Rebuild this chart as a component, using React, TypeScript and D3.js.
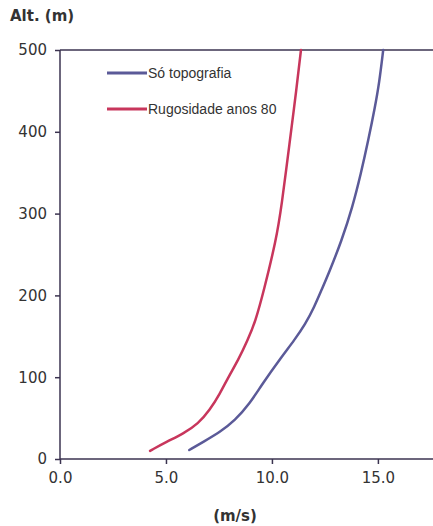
import * as d3 from "d3";
import React, { useEffect, useRef } from "react";

// wind speed (m/s) vs altitude (m)
const topoSpeed = [6.1, 6.76, 7.55, 8.25, 8.96, 9.55, 10.46, 11.05, 11.58, 12.0, 12.33, 12.68, 13.29, 13.8, 14.2, 14.55, 14.86, 15.06, 15.25];
const topoAlt = [11, 21, 33, 47, 68, 92, 125, 145, 165, 186, 206, 227, 267, 308, 349, 390, 430, 459, 500];

const roughSpeed = [4.25, 5.03, 5.82, 6.52, 7.07, 7.55, 7.94, 8.41, 8.85, 9.22, 9.62, 10.2, 10.45, 10.85, 11.1, 11.37];
const roughAlt = [10, 21, 31, 43, 60, 80, 100, 121, 145, 168, 206, 268, 308, 390, 440, 500];

const seriesNames = ["Só topografia", "Rugosidade anos 80"];
const seriesColors = ["#5b5a98", "#c8365c"];
const xTicks = [0, 5, 10, 15];
const yTicks = [0, 100, 200, 300, 400, 500];

const App: React.FC = () => {
  const svgRef = useRef<SVGSVGElement | null>(null);

  useEffect(() => {
    if (!svgRef.current) return;
    const width = 433;
    const height = 526;
    const marginLeft = 60;
    const marginTop = 50;
    const marginBottom = 67;

    const x = d3.scaleLinear().domain([0, 17.6]).range([marginLeft, width]);
    const y = d3.scaleLinear().domain([0, 500]).range([height - marginBottom, marginTop]);

    const svg = d3.select(svgRef.current);
    svg.selectAll("*").remove();

    const axisColor = "#3b3350";
    const font = "'DejaVu Sans', Verdana, sans-serif";

    // top frame line
    svg
      .append("line")
      .attr("x1", marginLeft)
      .attr("x2", width)
      .attr("y1", y(500))
      .attr("y2", y(500))
      .attr("stroke", axisColor)
      .attr("stroke-width", 1.5);

    svg
      .append("g")
      .attr("transform", `translate(0,${y(0)})`)
      .call(
        d3
          .axisBottom(x)
          .tickValues(xTicks)
          .tickSize(5)
          .tickPadding(8)
          .tickFormat((d) => d3.format(".1f")(d as number)),
      )
      .call((g) => g.select(".domain").attr("d", `M${marginLeft},0H${width}`))
      .call((g) => g.selectAll("path,line").attr("stroke", axisColor).attr("stroke-width", 1.5))
      .call((g) => g.selectAll("text").attr("fill", "#333").attr("font-size", 15).attr("font-family", font));

    svg
      .append("g")
      .attr("transform", `translate(${marginLeft},0)`)
      .call(d3.axisLeft(y).tickValues(yTicks).tickSize(5).tickPadding(8))
      .call((g) => g.select(".domain").attr("d", `M0,${y(0)}V${y(500)}`))
      .call((g) => g.selectAll("path,line").attr("stroke", axisColor).attr("stroke-width", 1.5))
      .call((g) => g.selectAll("text").attr("fill", "#333").attr("font-size", 15).attr("font-family", font));

    svg
      .append("text")
      .attr("x", 10)
      .attr("y", 21)
      .attr("font-family", font)
      .attr("font-weight", "bold")
      .attr("font-size", 15)
      .attr("fill", "#333")
      .text("Alt. (m)");

    svg
      .append("text")
      .attr("x", 235)
      .attr("y", 521)
      .attr("text-anchor", "middle")
      .attr("font-family", font)
      .attr("font-weight", "bold")
      .attr("font-size", 15)
      .attr("fill", "#333")
      .text("(m/s)");

    const line = d3
      .line<[number, number]>()
      .x((d) => x(d[0]))
      .y((d) => y(d[1]))
      .curve(d3.curveBasis);

    const series: [number, number][][] = [
      topoSpeed.map((s, i) => [s, topoAlt[i]]),
      roughSpeed.map((s, i) => [s, roughAlt[i]]),
    ];

    svg
      .append("g")
      .attr("fill", "none")
      .attr("stroke-width", 2.5)
      .attr("stroke-linejoin", "round")
      .attr("stroke-linecap", "round")
      .selectAll("path")
      .data(series)
      .join("path")
      .attr("stroke", (_, i) => seriesColors[i])
      .attr("d", line);

    // legend
    const legend = svg
      .append("g")
      .selectAll("g")
      .data(seriesNames)
      .join("g")
      .attr("transform", (_, i) => `translate(107,${73 + i * 36})`);
    legend
      .append("line")
      .attr("x1", 0)
      .attr("x2", 40)
      .attr("stroke", (_, i) => seriesColors[i])
      .attr("stroke-width", 3);
    legend
      .append("text")
      .attr("x", 41)
      .attr("y", 5)
      .attr("font-family", "'Liberation Sans', Arial, sans-serif")
      .attr("font-size", 14)
      .attr("fill", "#333")
      .text((d) => d);
  }, []);

  return (
    <svg
      ref={svgRef}
      width={433}
      height={526}
      style={{ position: "absolute", left: 0, top: 0, background: "#fff" }}
    />
  );
};

export default App;
